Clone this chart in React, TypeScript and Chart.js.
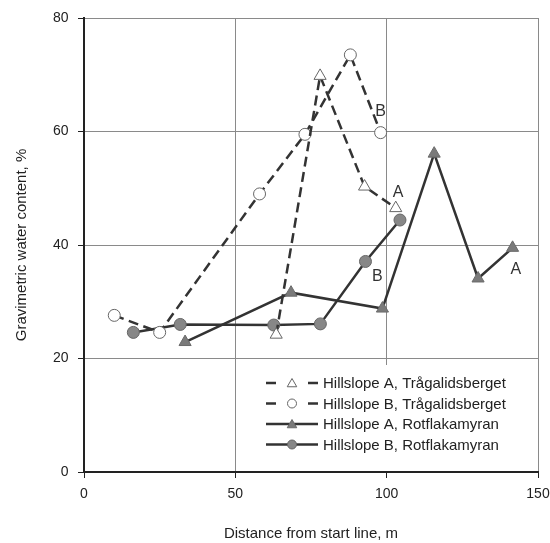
import React, { useEffect, useRef } from "react";
import { Chart, registerables } from "chart.js";

Chart.register(...registerables);

const seriesNames = [
  "Hillslope A, Trågalidsberget",
  "Hillslope B, Trågalidsberget",
  "Hillslope A, Rotflakamyran",
  "Hillslope B, Rotflakamyran",
];

const xAT = [63.5, 78, 92.7, 103];
const yAT = [24.2, 69.8, 50.3, 46.5];
const xBT = [10, 25, 58, 73, 88, 98];
const yBT = [27.6, 24.6, 49, 59.5, 73.5, 59.8];
const xAR = [33.4, 68.4, 98.6, 115.7, 130.2, 141.6];
const yAR = [22.9, 31.6, 28.8, 56.1, 34.1, 39.5];
const xBR = [16.3, 31.8, 62.7, 78.1, 93, 104.4];
const yBR = [24.6, 26.0, 25.9, 26.1, 37.1, 44.4];

const curveLabelText = ["B", "A", "B", "A"];
const curveLabelX = [98, 103.8, 96.9, 142.7];
const curveLabelY = [63.5, 49.2, 34.4, 35.6];

const xTicks = [0, 50, 100, 150];
const yTicks = [0, 20, 40, 60, 80];

const FONT = "'Liberation Sans', Arial, sans-serif";
const DARK = "#333333";

const toPts = (xs: number[], ys: number[]) => xs.map((x, i) => ({ x, y: ys[i] }));

function drawMarker(ctx: CanvasRenderingContext2D, style: string, x: number, y: number, r: number, fill: string, stroke: string) {
  ctx.save();
  ctx.setLineDash([]);
  ctx.beginPath();
  if (style === "triangle") {
    ctx.moveTo(x, y - r);
    ctx.lineTo(x + 0.866 * r, y + 0.5 * r);
    ctx.lineTo(x - 0.866 * r, y + 0.5 * r);
    ctx.closePath();
  } else {
    ctx.arc(x, y, r, 0, Math.PI * 2);
  }
  ctx.fillStyle = fill;
  ctx.fill();
  ctx.lineWidth = 1;
  ctx.strokeStyle = stroke;
  ctx.stroke();
  ctx.restore();
}

const legendPlugin = {
  id: "customLegend",
  afterDraw(chart: any) {
    const { ctx, chartArea } = chart;
    const w = 294;
    const h = 106;
    const left = chartArea.right - 1 - w;
    const top = chartArea.bottom - 1 - h;
    ctx.save();
    ctx.fillStyle = "#ffffff";
    ctx.fillRect(left, top, w, h);
    chart.data.datasets.forEach((ds: any, i: number) => {
      const cy = top + 18 + i * 20.5;
      const x0 = left + 23;
      const x1 = left + 75;
      const mx = (x0 + x1) / 2;
      ctx.save();
      ctx.strokeStyle = ds.borderColor;
      ctx.lineWidth = ds.borderWidth;
      ctx.beginPath();
      if (ds.borderDash && ds.borderDash.length) {
        ctx.moveTo(x0, cy);
        ctx.lineTo(x0 + 10, cy);
        ctx.moveTo(x1 - 10, cy);
        ctx.lineTo(x1, cy);
      } else {
        ctx.moveTo(x0, cy);
        ctx.lineTo(x1, cy);
      }
      ctx.stroke();
      ctx.restore();
      const r = ds.pointStyle === "triangle" ? 5.5 : 4.5;
      drawMarker(ctx, ds.pointStyle, mx, cy + (ds.pointStyle === "triangle" ? 1 : 0), r, ds.pointBackgroundColor, ds.pointBorderColor);
      ctx.fillStyle = "#222";
      ctx.font = "15px " + FONT;
      ctx.textAlign = "left";
      ctx.textBaseline = "middle";
      ctx.fillText(ds.label, x1 + 5, cy + 1);
    });
    ctx.restore();
  },
};

const curveLabelPlugin = {
  id: "curveLabels",
  afterDatasetsDraw(chart: any) {
    const { ctx } = chart;
    const xs = chart.scales.x;
    const ys = chart.scales.y;
    ctx.save();
    ctx.fillStyle = DARK;
    ctx.font = "16px " + FONT;
    ctx.textAlign = "center";
    ctx.textBaseline = "middle";
    curveLabelText.forEach((t, i) => {
      ctx.fillText(t, xs.getPixelForValue(curveLabelX[i]), ys.getPixelForValue(curveLabelY[i]));
    });
    ctx.restore();
  },
};

export default function App() {
  const ref = useRef<HTMLCanvasElement | null>(null);
  useEffect(() => {
    if (!ref.current) return;
    const dash = [10, 5.5];
    const chart = new Chart(ref.current, {
      type: "line",
      data: {
        datasets: [
          {
            label: seriesNames[0],
            data: toPts(xAT, yAT),
            borderColor: DARK,
            borderWidth: 2.5,
            borderDash: dash,
            pointStyle: "triangle",
            pointRadius: 7,
            pointBackgroundColor: "#ffffff",
            pointBorderColor: "#666666",
            pointBorderWidth: 1,
            tension: 0,
          },
          {
            label: seriesNames[1],
            data: toPts(xBT, yBT),
            borderColor: DARK,
            borderWidth: 2.5,
            borderDash: dash,
            pointStyle: "circle",
            pointRadius: 6,
            pointBackgroundColor: "#ffffff",
            pointBorderColor: "#666666",
            pointBorderWidth: 1,
            tension: 0,
          },
          {
            label: seriesNames[2],
            data: toPts(xAR, yAR),
            borderColor: DARK,
            borderWidth: 2.5,
            pointStyle: "triangle",
            pointRadius: 7,
            pointBackgroundColor: "#7a7a7a",
            pointBorderColor: "#6a6a6a",
            pointBorderWidth: 1,
            tension: 0,
          },
          {
            label: seriesNames[3],
            data: toPts(xBR, yBR),
            borderColor: DARK,
            borderWidth: 2.5,
            pointStyle: "circle",
            pointRadius: 6,
            pointBackgroundColor: "#878787",
            pointBorderColor: "#666666",
            pointBorderWidth: 1,
            tension: 0,
          },
        ] as any,
      },
      options: {
        animation: false,
        responsive: false,
        layout: { padding: { left: 0, top: 18, right: 12, bottom: 0 } },
        plugins: { legend: { display: false }, tooltip: { enabled: false } },
        scales: {
          x: {
            type: "linear",
            min: 0,
            max: 150,
            afterBuildTicks: (s: any) => {
              s.ticks = xTicks.map((v) => ({ value: v }));
            },
            afterFit: (s: any) => {
              s.height = 71;
              s.paddingLeft = 0;
              s.paddingRight = 0;
            },
            ticks: { color: "#222", font: { family: FONT, size: 14 }, padding: 8, maxRotation: 0 },
            grid: { color: "#8a8a8a", lineWidth: 1, tickLength: 6, tickColor: "#222" },
            border: { color: "#222", width: 2 },
            title: {
              display: true,
              text: "Distance from start line, m",
              color: "#222",
              font: { family: FONT, size: 15, lineHeight: 1 },
              padding: { top: 0, bottom: 1.5 },
            },
          },
          y: {
            type: "linear",
            min: 0,
            max: 80,
            afterBuildTicks: (s: any) => {
              s.ticks = yTicks.map((v) => ({ value: v }));
            },
            afterFit: (s: any) => {
              s.width = 84;
            },
            ticks: { color: "#222", font: { family: FONT, size: 14 }, padding: 9.5 },
            grid: { color: "#8a8a8a", lineWidth: 1, tickLength: 6, tickColor: "#222" },
            border: { color: "#222", width: 2 },
            title: {
              display: true,
              text: "Gravimetric water content, %",
              color: "#222",
              font: { family: FONT, size: 15, lineHeight: 1 },
              padding: { top: 14.5, bottom: 0 },
            },
          },
        },
      },
      plugins: [curveLabelPlugin, legendPlugin],
    });
    return () => chart.destroy();
  }, []);
  return (
    <div style={{ position: "absolute", left: 0, top: 0, width: 550, height: 543, background: "#fff" }}>
      <canvas ref={ref} width={550} height={543} />
    </div>
  );
}
